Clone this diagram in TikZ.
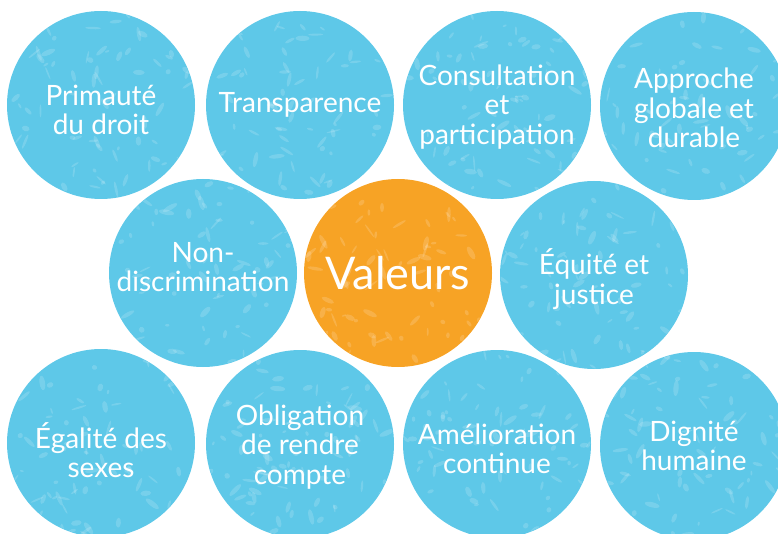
\documentclass[tikz,border=0pt]{standalone}
\usepackage{fontspec}
\setmainfont{Lato}
\usetikzlibrary{positioning}
\definecolor{bulle}{RGB}{94, 200, 232}
\definecolor{centre}{RGB}{247, 163, 37}

\begin{document}
\begin{tikzpicture}[x=1pt, y=-1pt]%
        \tikzstyle{valeur} = [circle, fill=bulle, minimum size=188pt, inner sep=0pt]
        \tikzstyle{coeur} = [valeur, fill=centre]
        \tikzstyle{texte} = [text=white, align=center, inner sep=0pt, font=\fontsize{28}{29.5}\selectfont]
        \tikzstyle{titre} = [text=white, inner sep=0pt, font=\fontsize{45}{48}\selectfont]
        \tikzstyle{tache} = [white, opacity=0.16]

        \useasboundingbox (0,0) rectangle (778,534);
        \clip (0,0) rectangle (778,534);

        % les bulles
        \node[valeur] (primaute) at (101,105) {};
        \node[valeur] (transparence) at (300,105) {};
        \node[valeur] (consultation) at (497,105) {};
        \node[valeur] (approche) at (694,106) {};
        \node[valeur] (nondiscr) at (203,273) {};
        \node[coeur] (valeurs) at (398,273) {};
        \node[valeur] (equite) at (594,275) {};
        \node[valeur] (egalite) at (101,443) {};
        \node[valeur] (obligation) at (300,444) {};
        \node[valeur] (amelioration) at (497,444) {};
        \node[valeur] (dignite) at (694,446) {};

        % texture
        \pgfmathsetseed{4217}
        \foreach \nom in {primaute, transparence, consultation, approche, nondiscr, valeurs, equite, egalite, obligation, amelioration, dignite}{
          \begin{scope}
            \clip (\nom.center) circle (93.5);
            \foreach \k in {1,...,80}{
              \pgfmathsetmacro{\dx}{rand*92}
              \pgfmathsetmacro{\dy}{rand*92}
              \pgfmathsetmacro{\ang}{rnd*180}
              \pgfmathsetmacro{\lg}{2+rnd*6}
              \pgfmathsetmacro{\ht}{0.8+rnd*2}
              \fill[tache] ([shift={(\dx,\dy)}]\nom.center) ellipse [x radius=\lg, y radius=\ht, rotate=\ang];
            }
          \end{scope}
        }

        % les textes
        \node[texte, yshift=-5] (primaute-t) at (primaute) {Primauté\\du droit};
        \node[texte] (transparence-t) at (transparence) {Transparence};
        \node[texte, yshift=-2] (consultation-t) at (consultation) {Consultation\\et\\participation};
        \node[texte, yshift=-2] (approche-t) at (approche) {Approche\\globale et\\durable};
        \node[texte, yshift=6] (nondiscr-t) at (nondiscr) {Non-\\discrimination};
        \node[titre] (valeurs-t) at (valeurs) {Valeurs};
        \node[texte, yshift=-4] (equite-t) at (equite) {Équité et\\justice};
        \node[texte, yshift=-7] (egalite-t) at (egalite) {Égalité des\\sexes};
        \node[texte, yshift=-3] (obligation-t) at (obligation) {Obligation\\de rendre\\compte};
        \node[texte, yshift=-5] (amelioration-t) at (amelioration) {Amélioration\\continue};
        \node[texte] (dignite-t) at (dignite) {Dignité\\humaine};
      \end{tikzpicture}
\end{document}
